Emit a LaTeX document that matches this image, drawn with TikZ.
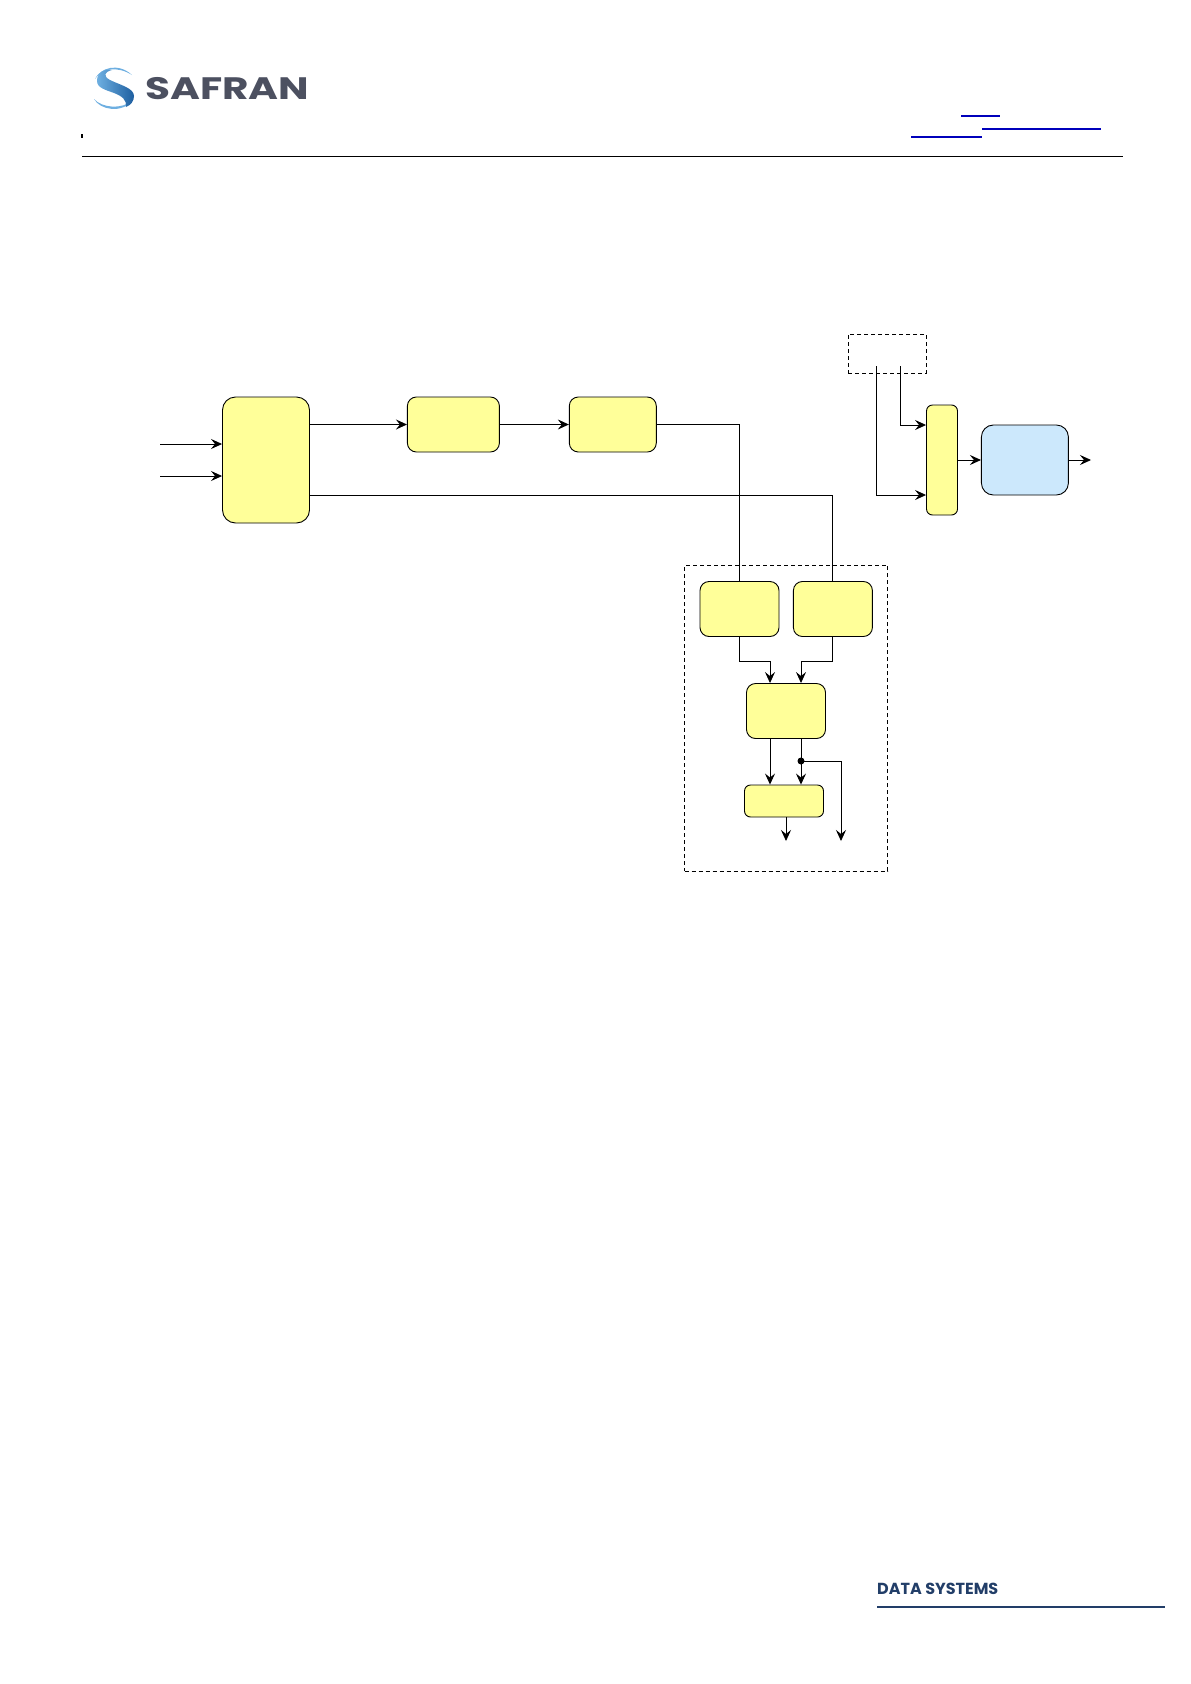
\documentclass[tikz,border=0pt]{standalone}
\usepackage{fontspec}
\setmainfont{Poppins}
\usetikzlibrary{arrows.meta, positioning, calc}
\definecolor{blockyellow}{RGB}{255,255,153}
\definecolor{blockblue}{RGB}{204,232,252}
\definecolor{linkblue}{RGB}{0,0,187}
\definecolor{logogrey}{RGB}{76,80,96}
\definecolor{logoblue}{RGB}{110,175,225}
\definecolor{logodark}{RGB}{30,95,160}
\definecolor{footblue}{RGB}{34,62,104}

\begin{document}
\begin{tikzpicture}[
  x=1pt, y=-1pt,
  block/.style={draw, rounded corners=9pt, inner sep=0pt, line width=0.9pt, fill=#1},
  block/.default=blockyellow,
  group/.style={draw, dashed, dash pattern=on 4pt off 3pt, inner sep=0pt, line width=0.8pt},
  arr/.style={-{Stealth[length=11pt, width=10pt, inset=4pt]}, line width=0.9pt},
  wire/.style={line width=0.9pt},
]
\useasboundingbox (0,0) rectangle (1191,1684);

% header
\fill[logoblue] (95,79) .. controls (100,68) and (118,62) .. (132,75) .. controls (118,66) and (102,68) .. (95,79) -- cycle;
\fill[logoblue] (94,99) .. controls (100,110) and (122,114) .. (133,100) .. controls (122,110) and (102,108) .. (94,99) -- cycle;
\shade[left color=logoblue, right color=logodark] (97,81) .. controls (97,72) and (104,69) .. (112,70) .. controls (104,72) and (103,76) .. (110,80) .. controls (120,85) and (134,88) .. (134,96) .. controls (134,101) and (131,105) .. (126,107) .. controls (127,100) and (122,96) .. (114,93) .. controls (106,90) and (97,88) .. (97,81) -- cycle;
\node[anchor=west, inner sep=0pt, text=logogrey, font=\fontsize{31}{31}\selectfont\bfseries, xscale=1.31] (logotext) at (145,89) {SAFRAN};
\coordinate (headleft) at (82,156);
\coordinate (headright) at (1123,156);
\draw[line width=1pt] (headleft) -- (headright);
\fill (81,134) rectangle (83,138);
\fill[linkblue] (961,115) rectangle (1000,117);
\fill[linkblue] (982,128.4) rectangle (1101,129.6);
\fill[linkblue] (911,136) rectangle (982,138);

% main chain
\node[block, minimum width=87pt, minimum height=126pt, rounded corners=13pt] (frontend) at (266,460) {};
\node[block, minimum width=92pt, minimum height=55pt, right=97pt of frontend.north east, anchor=north west] (stagea) {};
\node[block, minimum width=87pt, minimum height=55pt, right=69pt of stagea.north east, anchor=north west] (stageb) {};

% dashed group
\node[group, minimum width=203pt, minimum height=306pt] (outergroup) at (786,718) {};
\node[block, minimum width=79pt, minimum height=55pt] (leftblock) at (739.5,609) {};
\node[block, minimum width=79pt, minimum height=55pt, right=13.5pt of leftblock] (rightblock) {};
\node[block, minimum width=79pt, minimum height=55pt] (mergeblock) at (786,711) {};
\node[block, minimum width=79pt, minimum height=32pt, rounded corners=6pt] (lastblock) at (784,801) {};

% right side
\node[group, minimum width=78pt, minimum height=39pt] (sourcebox) at (887,353.5) {};
\node[block, minimum width=31pt, minimum height=110pt, rounded corners=6pt] (muxblock) at (942,460) {};
\node[block=blockblue, minimum width=87pt, minimum height=70pt, rounded corners=12pt, right=23pt of muxblock] (outblock) {};

\coordinate (inupper) at (160,444);
\coordinate (inlower) at (160,476);
\coordinate (tapout) at (309,495);
\coordinate (srcleft) at (876,366);
\coordinate (srcright) at (900,366);
\coordinate (outend) at (1091,460);
\coordinate (endlast) at (786,841);
\coordinate (endtap) at (841,841);

\draw[arr] (inupper) -- (inupper -| frontend.west);
\draw[arr] (inlower) -- (inlower -| frontend.west);
\draw[arr] (frontend.east |- stagea.west) -- (stagea.west);
\draw[arr] (stagea.east) -- (stageb.west);
\draw[wire] (stageb.east) -| (leftblock.north);
\draw[wire] (tapout) -| (rightblock.north);
\draw[arr] (leftblock.south) -- ++(0,24) -| ([xshift=-16pt]mergeblock.north);
\draw[arr] (rightblock.south) -- ++(0,24) -| ([xshift=15pt]mergeblock.north);
\draw[arr] ([xshift=-16pt]mergeblock.south) -- ([xshift=-16pt]mergeblock.south |- lastblock.north);
\draw[arr] ([xshift=15pt]mergeblock.south) -- ([xshift=15pt]mergeblock.south |- lastblock.north);
\node[fill, circle, inner sep=0pt, minimum size=7pt] (tapdot) at (801,761) {};
\draw[arr] (tapdot.center) -| (endtap);
\draw[arr] (lastblock.south -| endlast) -- (endlast);
\draw[arr] (srcleft) |- ([yshift=-35pt]muxblock.west);
\draw[arr] (srcright) |- ([yshift=35pt]muxblock.west);
\draw[arr] (muxblock.east) -- (outblock.west);
\draw[arr] (outblock.east) -- (outend);

% footer
\node[anchor=west, inner sep=0pt, text=footblue, font=\fontsize{16}{16}\selectfont\bfseries] (footertext) at (877,1589) {DATA SYSTEMS};
\coordinate (footleft) at (877,1607);
\coordinate (footright) at (1165,1607);
\draw[footblue, line width=1.2pt] (footleft) -- (footright);
\end{tikzpicture}
\end{document}
